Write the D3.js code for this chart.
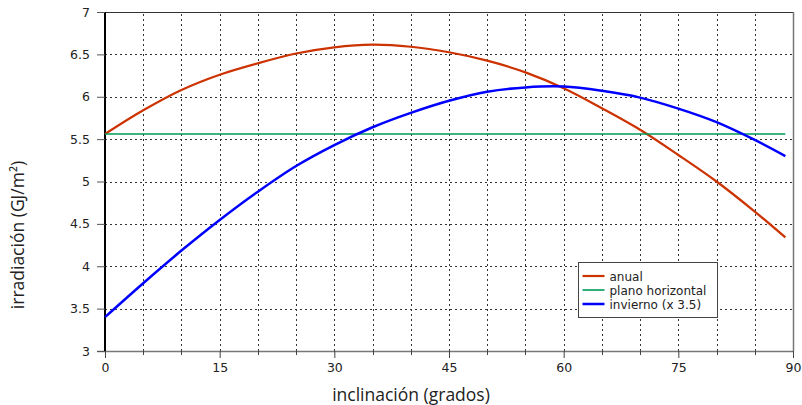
<!DOCTYPE html>
<html>
<head>
<meta charset="utf-8">
<script src="https://cdn.jsdelivr.net/npm/d3@7"></script>
<style>
  body { margin: 0; background: #fff; }
  text { font-family: "DejaVu Sans", sans-serif; fill: #222; }
  .title { font-family: "Open Sans", "DejaVu Sans", sans-serif; font-size: 17.5px; }
</style>
</head>
<body>
<script>
// inclination (degrees) and irradiation (GJ/m2)
const inclinacion = [0, 5, 10, 15, 20, 25, 30, 35, 40, 45, 50, 55, 60, 65, 70, 75, 80, 85, 89];
const anual = [5.56, 5.84, 6.08, 6.26, 6.395, 6.51, 6.583, 6.614, 6.59, 6.525, 6.426, 6.288, 6.10, 5.864, 5.61, 5.313, 5.00, 4.645, 4.34];
const planoHorizontal = [5.56, 5.56, 5.56, 5.56, 5.56, 5.56, 5.56, 5.56, 5.56, 5.56, 5.56, 5.56, 5.56, 5.56, 5.56, 5.56, 5.56, 5.56, 5.56];
const invierno = [3.40, 3.80, 4.185, 4.546, 4.88, 5.183, 5.43, 5.64, 5.81, 5.953, 6.06, 6.11, 6.12, 6.07, 5.99, 5.86, 5.70, 5.49, 5.30];
const xTicks = [0, 15, 30, 45, 60, 75, 90];
const yTicks = [3, 3.5, 4, 4.5, 5, 5.5, 6, 6.5, 7];
const seriesNames = ["anual", "plano horizontal", "invierno (x 3.5)"];

const width = 802, height = 405;
const margin = {left: 105, right: 9, top: 12, bottom: 54};

const svg = d3.select("body").append("svg")
  .attr("width", width)
  .attr("height", height);

const x = d3.scaleLinear().domain([0, 90]).range([margin.left, width - margin.right]);
const y = d3.scaleLinear().domain([3, 7]).range([height - margin.bottom, margin.top]);

// grid
const grid = svg.append("g").attr("stroke", "#333").attr("stroke-width", 1).attr("stroke-dasharray", "2,3");
grid.selectAll(".gx").data(d3.range(5, 90, 5)).enter().append("line")
  .attr("x1", d => Math.round(x(d)) + 0.5).attr("x2", d => Math.round(x(d)) + 0.5)
  .attr("y1", y(3)).attr("y2", y(7));
grid.selectAll(".gy").data(yTicks.slice(1, -1)).enter().append("line")
  .attr("x1", x(0)).attr("x2", x(90))
  .attr("y1", d => Math.round(y(d)) + 0.5).attr("y2", d => Math.round(y(d)) + 0.5);

// frame
svg.append("line").attr("x1", x(0) - 8).attr("x2", x(90)).attr("y1", y(7) + 0.5).attr("y2", y(7) + 0.5).attr("stroke", "#333");
svg.append("line").attr("x1", x(90) + 0.5).attr("x2", x(90) + 0.5).attr("y1", y(7)).attr("y2", y(3)).attr("stroke", "#777").attr("stroke-width", 1.5);

// x axis
const xAxis = svg.append("g").attr("transform", `translate(0,${y(3)})`)
  .call(d3.axisBottom(x).tickValues(xTicks).tickSize(7).tickPadding(5).tickFormat(d3.format("d")));
xAxis.select(".domain").attr("stroke", "#777").attr("stroke-width", 1.5).attr("d", `M${x(0) - 8},0.5H${x(90)}`);
xAxis.selectAll(".tick line").attr("stroke", "#444");
xAxis.selectAll("text").style("font-size", "12.5px").attr("fill", "#222");
xAxis.selectAll(".minor").data(d3.range(5, 90, 5).filter(d => d % 15 !== 0)).enter().append("line")
  .attr("class", "minor").attr("stroke", "#444")
  .attr("x1", d => Math.round(x(d)) + 0.5).attr("x2", d => Math.round(x(d)) + 0.5)
  .attr("y1", 0).attr("y2", 4);

// y axis
const yAxis = svg.append("g").attr("transform", `translate(${x(0)},0)`)
  .call(d3.axisLeft(y).tickValues(yTicks).tickSize(8).tickPadding(7).tickFormat(d => d));
yAxis.select(".domain").attr("stroke", "#000").attr("stroke-width", 2).attr("d", `M0,${y(7)}V${y(3)}`);
yAxis.selectAll(".tick line").attr("stroke", "#555");
yAxis.selectAll("text").style("font-size", "12.5px").attr("fill", "#222");

// titles
svg.append("text").attr("class", "title").attr("x", 411).attr("y", 401)
  .attr("text-anchor", "middle").text("inclinación (grados)");
svg.append("text").attr("class", "title").attr("transform", "translate(24,235) rotate(-90)")
  .attr("text-anchor", "middle").text("irradiación (GJ/m²)");

// lines
const series = [
  {name: seriesNames[0], values: anual, color: "#cc3300", w: 2.2},
  {name: seriesNames[1], values: planoHorizontal, color: "#009955", w: 1.6},
  {name: seriesNames[2], values: invierno, color: "#0000ff", w: 2.5}
];
const line = d3.line().x((d, i) => x(inclinacion[i])).y(d => y(d)).curve(d3.curveCatmullRom);
svg.selectAll(".series").data(series).enter().append("path")
  .attr("class", "series")
  .attr("fill", "none")
  .attr("stroke", d => d.color)
  .attr("stroke-width", d => d.w)
  .attr("d", d => line(d.values));

// legend
const legend = svg.append("g").attr("transform", "translate(578.5,262.5)");
legend.append("rect").attr("width", 139).attr("height", 55)
  .attr("fill", "#fff").attr("stroke", "#444").attr("stroke-width", 1);
const items = legend.selectAll(".item").data(series).enter().append("g")
  .attr("transform", (d, i) => `translate(0,${13.5 + i * 14})`);
items.append("line").attr("x1", 4).attr("x2", 26).attr("y1", 0).attr("y2", 0)
  .attr("stroke", d => d.color).attr("stroke-width", d => d.w);
items.append("text").attr("x", 31).attr("y", 4.5).style("font-size", "12px").text(d => d.name);
</script>
</body>
</html>
